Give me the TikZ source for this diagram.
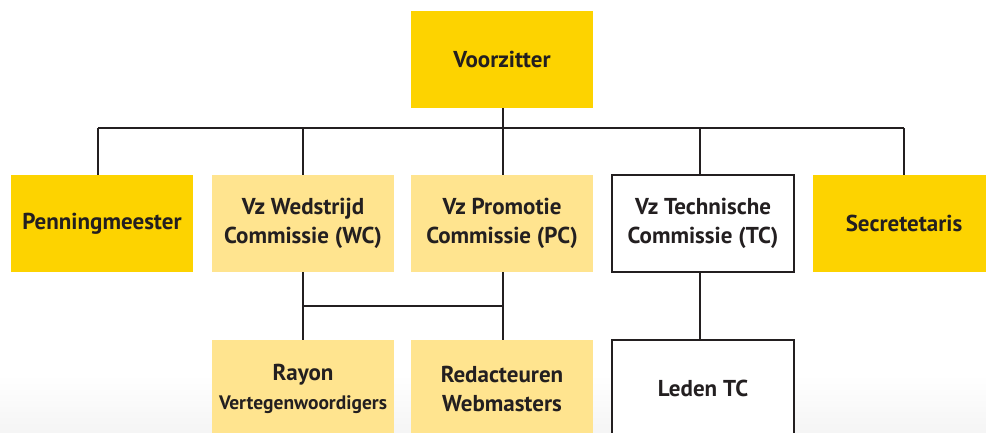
\documentclass[tikz,border=0pt]{standalone}
\usepackage{fontspec}
\setmainfont{PT Sans}
\definecolor{geel}{HTML}{FDD300}
\definecolor{lichtgeel}{HTML}{FFE48F}
\definecolor{inkt}{HTML}{231F20}
\tikzset{
	blok/.style={minimum width=182pt, minimum height=97pt, inner sep=0pt, align=center,
		font=\bfseries\fontsize{23}{29}\selectfont, text=inkt},
	hoofd/.style={blok, fill=geel},
	comm/.style={blok, fill=lichtgeel},
	tech/.style={blok, fill=white, draw=inkt, line width=2pt},
	lijn/.style={draw=inkt, line width=2pt}
}
\begin{document}
\begin{tikzpicture}[x=1pt, y=-1pt]
		%%%%% START %%%%%
		\useasboundingbox (0, 0) rectangle (986, 433);
		\clip (0, 0) rectangle (986, 433);
		\fill[white] (0, 0) rectangle (986, 433);
		\shade[top color=white, bottom color=black!4] (0, 375) rectangle (986, 433);
		
		% bestuur
		\node[hoofd] (voorz) at (502, 59.5) {Voorzitter};
		\node[hoofd] (penn) at (102, 223.5) {Penningmeester};
		\node[comm] (wc) at (303, 223.5) {Vz Wedstrijd\\Commissie (WC)};
		\node[comm] (pc) at (502, 223.5) {Vz Promotie\\Commissie (PC)};
		\node[tech] (tc) at (703, 223.5) {Vz Technische\\Commissie (TC)};
		\node[hoofd] (sec) at (904, 223.5) {Secretetaris};
		
		% onder de commissies
		\node[comm] (rayon) at (303, 388.5) {Rayon\\{\fontsize{19.5}{28}\selectfont Vertegenwoordigers}};
		\node[comm] (redac) at (502, 388.5) {Redacteuren\\Webmasters};
		\node[tech] (leden) at (703, 388.5) {Leden TC};
		
		% lijnen boven
		\coordinate (rail) at (0, 128.5);
		\draw[lijn] ([xshift=1pt]voorz.south) -- ([xshift=1pt]voorz.south |- rail);
		\draw[lijn] ([xshift=-4pt]penn.north |- rail) -- (sec.north |- rail);
		\foreach \n/\dx in {penn/-4, wc/0, pc/1, tc/-3, sec/0}
			\draw[lijn] ([xshift=\dx pt]\n.north) -- ([xshift=\dx pt]\n.north |- rail);
		
		% lijnen onder
		\coordinate (rail2) at (0, 306);
		\draw[lijn] (wc.south) -- (rayon.north);
		\draw[lijn] ([xshift=1pt]pc.south) -- ([xshift=1pt]redac.north);
		\draw[lijn] (wc.south |- rail2) -- ([xshift=1pt]pc.south |- rail2);
		\draw[lijn] ([xshift=-3pt]tc.south) -- ([xshift=-3pt]leden.north);
		%%%%% END %%%%%
	\end{tikzpicture}
\end{document}
